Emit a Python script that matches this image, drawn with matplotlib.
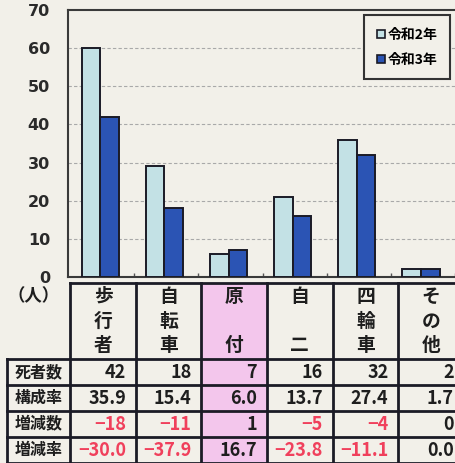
import numpy as np
import matplotlib
matplotlib.use('Agg')
import matplotlib.pyplot as plt
from matplotlib.lines import Line2D

plt.rcParams['font.family'] = ['Noto Sans CJK JP', 'DejaVu Sans']

# data
categories = ['歩行者', '自転車', '原付', '自二', '四輪車', 'その他']
deaths_r2 = [60, 29, 6, 21, 36, 2]
deaths_r3 = [42, 18, 7, 16, 32, 2]
share_r3 = [35.9, 15.4, 6.0, 13.7, 27.4, 1.7]
diff_num = [-18, -11, 1, -5, -4, 0]
diff_rate = [-30.0, -37.9, 16.7, -23.8, -11.1, 0.0]
row_labels = ['死者数', '構成率', '増減数', '増減率']
series_labels = ['令和2年', '令和3年']
yticks = [0, 10, 20, 30, 40, 50, 60, 70]
highlight = 2  # 原付 column is shaded

BG = '#f2f0e9'
LIGHT = '#c3e1e5'
DARK = '#2b54b4'
EDGE = '#1b1b26'
PINK = '#f3c6ec'
RED = '#f0405c'
TXT = '#1e1e1e'

W, H = 455, 463
X0, COLW = 103, 65.6   # pixel centre of first column, column width


def px2d(px):
    return (px - X0) / COLW


def fmt(v, dec):
    s = f'{abs(v):.{dec}f}'
    return ('−' + s) if v < 0 else s


fig = plt.figure(figsize=(W / 100, H / 100), dpi=100)
fig.patch.set_facecolor(BG)

# ---- bar chart ----
ax = fig.add_axes([68 / W, (H - 277) / H, (W - 68) / W, 267 / H])
ax.set_facecolor(BG)
x = np.arange(len(categories))
bw = 0.29
ax.bar(x - 0.03 - bw / 2, deaths_r2, width=bw, color=LIGHT, edgecolor=EDGE, linewidth=1.4, zorder=3)
ax.bar(x - 0.03 + bw / 2, deaths_r3, width=bw, color=DARK, edgecolor=EDGE, linewidth=1.4, zorder=3)

ax.set_xlim(px2d(68), px2d(W))
ax.set_ylim(0, 70)
ax.set_yticks(yticks)
ax.set_yticklabels([str(t) for t in yticks], fontsize=11.5, fontweight='bold', color='#2a2a2a',
                   family=['DejaVu Sans'])
ax.tick_params(axis='y', length=0, pad=13)
ax.set_xticks([])
ax.set_xticks(x + 0.5, minor=True)
ax.tick_params(axis='x', which='minor', direction='in', length=3, color='#555555', width=1)
ax.set_xticklabels([], minor=True)
for y in yticks[1:-1]:
    ax.axhline(y, color='#a9a9a9', linestyle=(0, (3, 2)), linewidth=0.8, zorder=1)
for s in ['left', 'bottom', 'top']:
    ax.spines[s].set_color('#3a3a3a')
    ax.spines[s].set_linewidth(1.5)
ax.spines['right'].set_visible(False)

handles = [Line2D([], [], marker='s', linestyle='none', markersize=6, markerfacecolor=c,
                  markeredgecolor=EDGE, markeredgewidth=1.2) for c in (LIGHT, DARK)]
leg = ax.legend(handles, series_labels, loc='upper right', bbox_to_anchor=(450 / W, 1 - 15 / H),
                bbox_transform=fig.transFigure, frameon=True, fancybox=False, framealpha=1,
                facecolor=BG, edgecolor='#333333', prop={'size': 10, 'weight': 'bold'},
                handlelength=0.6, handletextpad=0.2, labelspacing=0.8, borderpad=0.9,
                borderaxespad=0)
leg.get_frame().set_linewidth(1.5)

# ---- table ----
tax = fig.add_axes([0, 0, 1, 180 / H])
tax.set_xlim(px2d(0), px2d(W))
header_h = (359 - 283) / 26
tax.set_ylim(header_h + 4, 0)
tax.axis('off')

n = len(categories)
lab_l, lab_r = px2d(7), -0.5
bottom = header_h + len(row_labels)
tax.axvspan(highlight - 0.5, highlight + 0.5, color=PINK, zorder=0)

lk = dict(color=EDGE, linewidth=2, clip_on=False, zorder=3)
tax.plot([lab_r, n - 0.5], [0, 0], **lk)
for k in range(len(row_labels) + 1):
    tax.plot([lab_l, n - 0.5], [header_h + k, header_h + k], **lk)
tax.plot([lab_l, lab_l], [header_h, bottom], **lk)
for i in range(n + 1):
    tax.plot([i - 0.5, i - 0.5], [0, bottom], **lk)

tax.text((px2d(10) + px2d(58)) / 2, 0.5, '（人）', ha='center', va='center',
         fontsize=12.5, fontweight='bold', color=TXT)

slots = [0.5, 1.47, 2.42]
for i, name in enumerate(categories):
    chars = list(name) if len(name) == 3 else [name[0], '', name[1]]
    for ch, yy in zip(chars, slots):
        tax.text(i, yy, ch, ha='center', va='center', fontsize=13.5, fontweight='bold', color=TXT)

for k, lab in enumerate(row_labels):
    tax.text((lab_l + lab_r) / 2, header_h + k + 0.5, lab, ha='center', va='center',
             fontsize=11.5, fontweight='bold', color=TXT)

rows = [deaths_r3, share_r3, diff_num, diff_rate]
decs = [0, 1, 0, 1]
for k, (vals, dec) in enumerate(zip(rows, decs)):
    for i, v in enumerate(vals):
        tax.text(i + 0.5 - 0.15, header_h + k + 0.53, fmt(v, dec), ha='right', va='center',
                 fontsize=13, fontweight='bold', color=RED if v < 0 else TXT)

fig.savefig('out.png', dpi=100, facecolor=BG)
